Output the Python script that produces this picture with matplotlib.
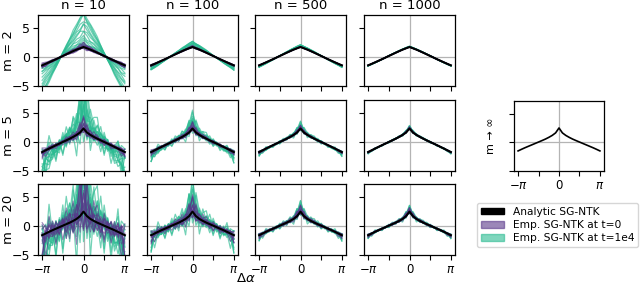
import numpy as np
import matplotlib.pyplot as plt
from matplotlib.patches import Patch

# column / row labels
n_values = [10, 100, 500, 1000]
m_labels = ["m = 2", "m = 5", "m = 20"]

# analytic SG-NTK, half curve from -pi to 0 (13 samples), mirrored later
analytic_half = {
    "2": [-1.45, -1.2, -0.94, -0.67, -0.4, -0.12, 0.16, 0.44, 0.72, 0.99, 1.25, 1.48, 1.7],
    "5": [-1.75, -1.45, -1.15, -0.86, -0.57, -0.29, -0.02, 0.26, 0.55, 0.86, 1.2, 1.62, 2.3],
    "20": [-1.6, -1.31, -1.02, -0.74, -0.48, -0.22, 0.04, 0.3, 0.56, 0.86, 1.2, 1.68, 2.45],
    "inf": [-1.5, -1.22, -0.95, -0.7, -0.45, -0.2, 0.05, 0.3, 0.56, 0.86, 1.2, 1.64, 2.5],
}

# hand-read fluctuation shapes of the empirical kernels (25 samples each)
wiggles = [
    [0.3, -0.5, 1.6, -0.2, 0.1, -0.9, 0.4, 0.6, -0.3, 0.2, -1.7, 0.9, 1.5, -0.4, 0.7, -0.1, -0.8, 0.3, 0.0, 0.6, -1.6, 0.2, 0.9, -0.3, -0.5],
    [-0.6, 0.2, -0.1, 0.7, -1.8, 0.3, 0.5, -0.4, 0.9, -0.2, 0.6, 1.8, -0.7, 0.8, -0.3, 0.4, 0.2, -0.9, 1.4, -0.1, 0.3, -0.5, -0.2, 0.7, -1.5],
    [-1.4, 0.1, -0.4, -0.7, 0.5, 0.2, -0.3, 1.7, 0.0, -0.6, 0.4, -0.2, 0.9, 0.3, -0.8, 0.6, -0.1, 0.2, -1.9, 0.7, -0.9, 0.4, 0.1, -0.2, 0.6],
    [-0.2, -0.8, 0.6, 0.3, -0.1, 0.7, -1.6, 0.1, 0.4, -0.9, 0.2, 0.8, 2.0, -0.1, 0.3, -0.7, 0.9, 0.5, -0.2, -0.4, 0.8, 0.0, -0.6, 0.3, -1.8],
    [0.5, 0.7, -0.3, 0.2, -0.6, -0.1, 0.9, -0.8, 0.3, 1.5, -0.4, -0.2, 0.7, -0.9, 0.1, 0.5, -0.3, 0.8, 0.4, -0.7, 0.0, 0.6, -0.1, -1.9, 0.2],
    [-1.7, 0.4, 0.2, -0.5, 0.8, -0.3, 0.0, 0.6, -0.7, 0.1, 0.9, -0.6, 0.2, 1.6, -0.4, -0.8, 0.3, 0.1, 0.7, -0.2, -0.5, 0.9, -0.3, 0.4, 0.8],
    [0.1, -0.3, 0.9, -0.6, -0.2, 0.5, 0.3, -0.9, 0.7, 0.4, -0.1, 1.9, -0.8, 0.2, 0.9, -0.5, 0.0, -1.5, 0.8, 0.5, -0.7, -0.2, 0.6, 0.1, -0.4],
    [0.7, -0.1, -0.6, 0.4, 0.3, -0.8, 0.6, 0.2, -1.5, 0.9, -0.3, 0.0, 0.4, -0.6, -0.2, 0.8, 1.7, -0.4, -0.9, 0.3, 0.6, -0.7, 0.2, 0.5, -0.1],
]
# fluctuations are stronger near delta alpha = 0
envelope = [0.8, 0.7, 0.6, 0.55, 0.5, 0.5, 0.5, 0.55, 0.6, 0.75, 0.9, 1.1, 1.4,
            1.1, 0.9, 0.75, 0.6, 0.55, 0.5, 0.5, 0.5, 0.55, 0.6, 0.7, 0.8]

# per-curve relative amplitude of each empirical kernel
green_scale_base = [0.05, 0.9, 0.3, 1.6, 0.55, 1.2, 0.15, 1.85, 0.7, 1.4, 0.4, 1.05, 0.2, 1.7]
purple_scale_base = [-0.2, 0.1, -0.05, 0.25, -0.15, 0.3, 0.0, -0.1, 0.15, 0.2, -0.25, 0.05]

# spread of amplitudes and noise level per panel (rows m, columns n)
green_spread = [[1.9, 0.3, 0.12, 0.04], [1.2, 0.25, 0.08, 0.03], [1.2, 0.2, 0.06, 0.03]]
purple_spread = [[0.8, 0.3, 0.12, 0.04], [0.6, 0.3, 0.1, 0.05], [0.6, 0.3, 0.1, 0.05]]
green_noise = [[0.2, 0.06, 0.03, 0.01], [2.4, 0.8, 0.35, 0.15], [5.0, 1.8, 0.6, 0.35]]
purple_noise = [[0.2, 0.05, 0.02, 0.01], [0.7, 0.4, 0.2, 0.1], [3.0, 1.0, 0.4, 0.25]]

x = np.linspace(-np.pi, np.pi, 25)


def full_curve(half):
    half = np.array(half)
    return np.concatenate([half, half[-2::-1]])


purple = "#58378a"
green = "#2abb91"
grey = "#b4b4b4"

W, H = 640, 284
fig = plt.figure(figsize=(W / 100, H / 100), dpi=100)


def make_ax(left, top, w, h):
    return fig.add_axes([left / W, 1 - (top + h) / H, w / W, h / H])


def style(ax, ylabels, xlabels):
    ax.axhline(0, color=grey, lw=0.9, zorder=0)
    ax.axvline(0, color=grey, lw=0.9, zorder=0)
    ax.set_ylim(-5, 7.2)
    ax.set_yticks([-5, 0, 5])
    ax.set_xticks([-np.pi, -np.pi / 2, 0, np.pi / 2, np.pi])
    if xlabels:
        ax.set_xticklabels([r"$-\pi$", "", "0", "", r"$\pi$"], fontsize=8.5)
    else:
        ax.set_xticklabels([])
    if ylabels:
        ax.set_yticklabels(["\u22125", "0", "5"], fontsize=9)
    else:
        ax.set_yticklabels([])
    ax.tick_params(length=3.5, width=0.8, pad=2)
    for s in ax.spines.values():
        s.set_linewidth(0.9)


col_left = [38, 147, 255, 364]
row_top = [15, 100, 184]
m_keys = ["2", "5", "20"]
env = np.array(envelope)

for i, mk in enumerate(m_keys):
    base = full_curve(analytic_half[mk])
    for j, n in enumerate(n_values):
        ax = make_ax(col_left[j], row_top[i], 91, 71)
        # empirical kernels after training
        for k, b in enumerate(green_scale_base):
            w = np.array(wiggles[k % 8])
            if k >= 8:
                w = w[::-1]
            y = base * (1 + green_spread[i][j] * b) + green_noise[i][j] * env * w
            ax.plot(x, y, color=green, alpha=0.65, lw=0.9)
        # empirical kernels at init
        for k, b in enumerate(purple_scale_base):
            w = np.array(wiggles[(k + 3) % 8])
            if k >= 8:
                w = w[::-1]
            y = base * (1 + purple_spread[i][j] * b) + purple_noise[i][j] * env * w
            ax.plot(x, y, color=purple, alpha=0.6, lw=0.8)
        ax.plot(x, base, color="black", lw=1.5)
        style(ax, j == 0, i == 2)
        if i == 0:
            ax.set_title(f"n = {n}", fontsize=9.5, pad=4)
        if j == 0:
            ax.set_ylabel(m_labels[i], fontsize=9.5)
            ax.yaxis.set_label_coords(-0.25, 0.5)

# m -> infinity panel
ax = make_ax(514, 101, 90, 70)
ax.plot(x, full_curve(analytic_half["inf"]), color="black", lw=1.2)
style(ax, False, True)
ax.set_ylabel("m \u2192 \u221e", fontsize=8)
ax.yaxis.set_label_coords(-0.2, 0.5)

fig.text(246 / W, 1 - 279 / H, r"$\Delta\alpha$", ha="center", va="center", fontsize=9.5)

handles = [
    Patch(color="black", label="Analytic SG-NTK"),
    Patch(color=purple, alpha=0.6, label="Emp. SG-NTK at t=0"),
    Patch(color=green, alpha=0.6, label="Emp. SG-NTK at t=1e4"),
]
fig.legend(handles=handles, loc="upper left", bbox_to_anchor=(477 / W, 1 - 203 / H),
           fontsize=7.7, frameon=True, borderpad=0.35, labelspacing=0.3,
           handlelength=2.2, handleheight=0.6, handletextpad=0.8, borderaxespad=0)

fig.savefig("out.png", dpi=100)
